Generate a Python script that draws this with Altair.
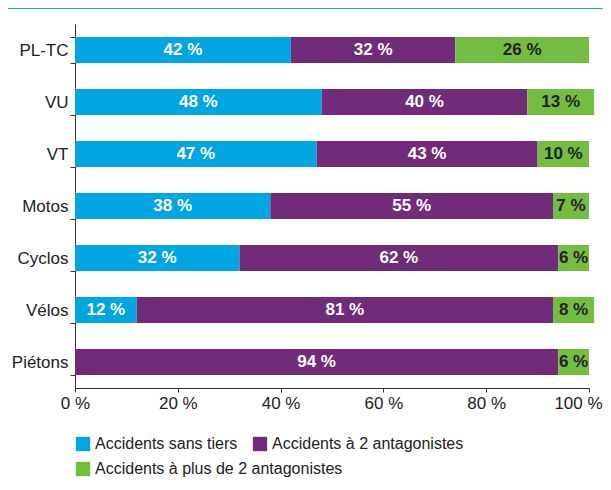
import altair as alt
import pandas as pd

categories = ["PL-TC", "VU", "VT", "Motos", "Cyclos", "Vélos", "Piétons"]
series = ["Accidents sans tiers", "Accidents à 2 antagonistes", "Accidents à plus de 2 antagonistes"]
sans_tiers = [42, 48, 47, 38, 32, 12, 0]
deux_antag = [32, 40, 43, 55, 62, 81, 94]
plus_deux = [26, 13, 10, 7, 6, 8, 6]
x_ticks = [0, 20, 40, 60, 80, 100]

colors = ["#00A5E1", "#702C78", "#74BD43"]
label_colors = ["#FFFFFF", "#FFFFFF", "#222222"]

rows = []
for i, c in enumerate(categories):
    for j, (s, vals) in enumerate(zip(series, [sans_tiers, deux_antag, plus_deux])):
        rows.append({"cat": c, "serie": s, "order": j, "value": vals[i], "lc": label_colors[j]})
df = pd.DataFrame(rows)

FONT = "Liberation Sans"

legend_common = dict(orient="none", legendX=0, direction="horizontal",
                     symbolType="square", symbolSize=205, symbolStrokeWidth=0,
                     labelFontSize=16, labelFont=FONT, labelColor="#222222",
                     columnPadding=14, padding=0, labelOffset=4, labelLimit=400)

y_enc = alt.Y("cat:N", sort=categories, title=None,
              scale=alt.Scale(paddingInner=0.5, paddingOuter=0.25),
              axis=alt.Axis(tickBand="extent", tickSize=5, labelPadding=2, domainColor="#333333",
                            tickColor="#333333", labelFontSize=17, labelColor="#222222",
                            labelFont=FONT))

base = alt.Chart(df).transform_stack(
    stack="value", groupby=["cat"], as_=["x0", "x1"], sort=[alt.SortField("order", order="ascending")]
).transform_calculate(mid="(datum.x0 + datum.x1) / 2")

bars = base.mark_bar().encode(
    x=alt.X("x0:Q", title=None, scale=alt.Scale(domain=[0, 100], nice=False),
            axis=alt.Axis(values=x_ticks, labelExpr="datum.value + ' %'", grid=False, tickSize=4,
                          labelPadding=3, domainColor="#333333", tickColor="#333333",
                          labelFontSize=17, labelColor="#222222", labelFont=FONT,
                          labelOverlap=False, labelFlush=False,
                          labelOffset=alt.expr("datum.value == 100 ? -11 : 0"))),
    x2="x1:Q",
    y=y_enc,
    color=alt.Color("serie:N", sort=series, title=None,
                    scale=alt.Scale(domain=series, range=colors),
                    legend=alt.Legend(values=series[:2], legendY=412, **legend_common)),
    order=alt.Order("order:Q"),
)

legend2 = alt.Chart(df).transform_filter("false").mark_square(opacity=1).encode(
    x=alt.X("value:Q"),
    y=alt.Y("cat:N", sort=categories),
    fill=alt.Fill("serie:N", title=None,
                  scale=alt.Scale(domain=series[2:], range=colors[2:]),
                  legend=alt.Legend(legendY=437, **legend_common)),
)

labels = base.transform_filter("datum.value > 0").mark_text(
    fontSize=17, fontWeight="bold", font=FONT, baseline="middle", align="center"
).encode(
    x=alt.X("mid:Q"),
    y=alt.Y("cat:N", sort=categories),
    text=alt.Text("lbl:N"),
    color=alt.Color("lc:N", scale=None),
).transform_calculate(lbl="datum.value + ' %'")

top_band = alt.Chart(pd.DataFrame({"a": [0]})).mark_rect(color="#00A5E1").encode(
    x=alt.value(-67), x2=alt.value(528), y=alt.value(-16), y2=alt.value(-15)
)

chart = alt.layer(bars, labels, legend2, top_band).resolve_scale(
    color="independent", fill="independent"
).properties(
    width=514, height=364,
    autosize=alt.AutoSizeParams(type="none"),
    padding={"left": 67, "top": 16, "right": 14, "bottom": 90},
).configure_view(stroke=None)

chart.save("out.html", embed_options={"renderer": "svg", "actions": False})
